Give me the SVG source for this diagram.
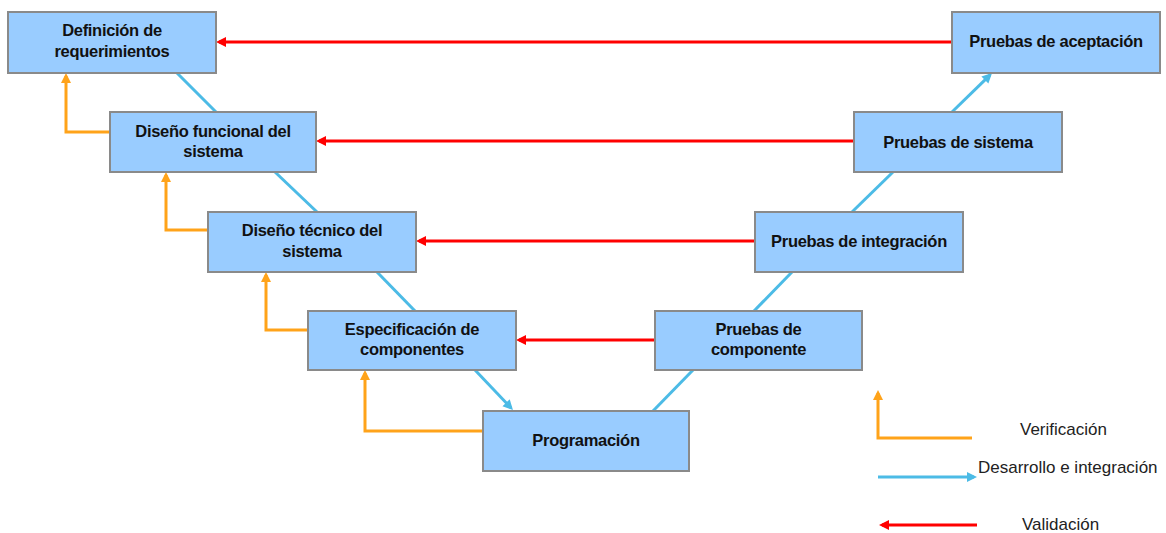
<svg xmlns="http://www.w3.org/2000/svg" width="1166" height="533" viewBox="0 0 1166 533">
<style>
  .box { fill: #99CCFF; stroke: #8A8A8A; stroke-width: 2; }
  .lbl { font-family: "Liberation Sans", Arial, sans-serif; font-weight: bold; font-size: 16.5px; fill: #111; text-anchor: middle; letter-spacing: -0.3px; }
  .leg { font-family: "Liberation Sans", Arial, sans-serif; font-size: 17px; fill: #222; }
  .red { stroke: #FF0000; stroke-width: 3; fill: none; marker-end: url(#ahRed); }
  .blue { stroke: #4CBBE6; stroke-width: 3; fill: none; }
  .blueA { stroke: #4CBBE6; stroke-width: 3; fill: none; marker-end: url(#ahBlue); }
  .orange { stroke: #FFA31A; stroke-width: 3; fill: none; marker-end: url(#ahOrange); }
</style>
<defs>
  <marker id="ahRed" markerUnits="userSpaceOnUse" markerWidth="11" markerHeight="11" refX="7" refY="5" orient="auto">
    <path d="M0,0 L10,5 L0,10 z" fill="#FF0000"/>
  </marker>
  <marker id="ahBlue" markerUnits="userSpaceOnUse" markerWidth="11" markerHeight="11" refX="7" refY="5" orient="auto">
    <path d="M0,0 L10,5 L0,10 z" fill="#4CBBE6"/>
  </marker>
  <marker id="ahOrange" markerUnits="userSpaceOnUse" markerWidth="11" markerHeight="11" refX="7" refY="5" orient="auto">
    <path d="M0,0 L10,5 L0,10 z" fill="#FFA31A"/>
  </marker>
</defs>
<rect width="1166" height="533" fill="#FFFFFF"/>

<g id="connectors">
  <!-- development / integration (blue) -->
  <line class="blue" x1="177" y1="73" x2="216" y2="112"/>
  <line class="blue" x1="275" y1="172" x2="317" y2="212"/>
  <line class="blue" x1="377" y1="272" x2="415" y2="311"/>
  <line class="blueA" x1="475" y1="370" x2="510.9" y2="407.8"/>
  <line class="blue" x1="653" y1="411" x2="693" y2="370"/>
  <line class="blue" x1="754" y1="311" x2="792" y2="272"/>
  <line class="blue" x1="852" y1="212" x2="893" y2="172"/>
  <line class="blueA" x1="952" y1="112" x2="989.9" y2="75.1"/>
  <!-- validation (red) -->
  <line class="red" x1="952" y1="42" x2="219" y2="42"/>
  <line class="red" x1="854" y1="141" x2="319" y2="141"/>
  <line class="red" x1="755" y1="241" x2="419" y2="241"/>
  <line class="red" x1="655" y1="340" x2="519" y2="340"/>
  <!-- verification (orange) -->
  <polyline class="orange" points="110,132 66,132 66,76"/>
  <polyline class="orange" points="208,230 166,230 166,175"/>
  <polyline class="orange" points="308,330 266,330 266,275"/>
  <polyline class="orange" points="483,431 365,431 365,373"/>
</g>

<g id="n1"><rect class="box" x="8" y="12" width="208" height="61"/>
  <text class="lbl" x="112" y="36">Definición de</text><text class="lbl" x="112" y="57">requerimientos</text></g>
<g id="n2"><rect class="box" x="110" y="112" width="206" height="60"/>
  <text class="lbl" x="213" y="137">Diseño funcional del</text><text class="lbl" x="213" y="157">sistema</text></g>
<g id="n3"><rect class="box" x="208" y="212" width="208" height="60"/>
  <text class="lbl" x="312" y="236">Diseño técnico del</text><text class="lbl" x="312" y="257">sistema</text></g>
<g id="n4"><rect class="box" x="308" y="311" width="208" height="59"/>
  <text class="lbl" x="412" y="335">Especificación de</text><text class="lbl" x="412" y="355">componentes</text></g>
<g id="n5"><rect class="box" x="483" y="411" width="206" height="60"/>
  <text class="lbl" x="586" y="446">Programación</text></g>
<g id="n6"><rect class="box" x="655" y="311" width="207" height="59"/>
  <text class="lbl" x="758.5" y="335">Pruebas de</text><text class="lbl" x="758.5" y="355">componente</text></g>
<g id="n7"><rect class="box" x="755" y="212" width="208" height="60"/>
  <text class="lbl" x="859" y="247">Pruebas de integración</text></g>
<g id="n8"><rect class="box" x="854" y="112" width="208" height="60"/>
  <text class="lbl" x="958" y="148">Pruebas de sistema</text></g>
<g id="n9"><rect class="box" x="952" y="12" width="208" height="61"/>
  <text class="lbl" x="1056" y="47">Pruebas de aceptación</text></g>

<g id="legend">
  <polyline class="orange" points="972,438 878,438 878,393"/>
  <text class="leg" x="1020" y="435">Verificación</text>
  <line class="blueA" x1="878" y1="477" x2="974" y2="477"/>
  <text class="leg" x="978" y="473">Desarrollo e integración</text>
  <line class="red" x1="977" y1="525" x2="882" y2="525"/>
  <text class="leg" x="1022" y="530">Validación</text>
</g>
</svg>
